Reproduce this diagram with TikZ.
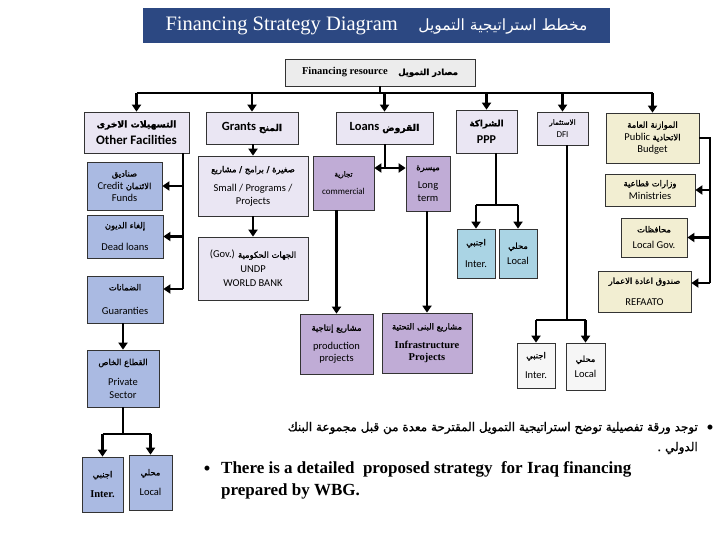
\documentclass[tikz,border=0pt]{standalone}
\usepackage{fontspec}
\setmainfont{Carlito}
\newfontfamily\timesfont{Liberation Serif}
\newfontfamily\arabicfont[Script=Arabic]{DejaVu Sans}
\newfontfamily\arabicbf[Script=Arabic,FakeBold=1.2,Scale=0.8]{DejaVu Sans}
\TeXXeTstate=1
\newcommand{\arb}[1]{{\arabicbf\beginR #1\endR}}
\usetikzlibrary{arrows.meta}

\definecolor{titlebg}{RGB}{44,72,130}
\definecolor{resbox}{RGB}{236,236,236}
\definecolor{lavbox}{RGB}{234,230,243}
\definecolor{blubox}{RGB}{170,186,226}
\definecolor{purbox}{RGB}{192,172,214}
\definecolor{cyabox}{RGB}{170,212,228}
\definecolor{whtbox}{RGB}{246,246,246}
\definecolor{bgebox}{RGB}{242,238,210}

\begin{document}
\begin{tikzpicture}[
  x=1pt, y=-1pt,
  box/.style={draw=black!80, line width=0.7pt, inner sep=1pt, align=center, font=\fontsize{10.5}{12.5}\selectfont},
  lav/.style={box, fill=lavbox},
  blu/.style={box, fill=blubox},
  pur/.style={box, fill=purbox},
  cya/.style={box, fill=cyabox},
  wht/.style={box, fill=whtbox},
  bge/.style={box, fill=bgebox},
  line/.style={line width=2.8pt},
  arrow/.style={line, -{Triangle[width=9pt,length=7pt]}}
]
\fill[white] (0,0) rectangle (720,540);

% heading
\node[fill=titlebg, text=white, minimum width=467, minimum height=35, font=\timesfont\fontsize{20.5}{24}\selectfont] (title) at (376.5,25.5)
  {Financing Strategy Diagram\quad{\arabicfont\fontsize{15.5}{18}\selectfont\beginR مخطط استراتيجية التمويل\endR}};
\node[box, fill=resbox, minimum width=190, minimum height=27, font=\timesfont\bfseries\fontsize{10.5}{12}\selectfont] (fres) at (380,72.5)
  {Financing resource\quad{\fontsize{10.5}{12}\selectfont\arb{مصادر التمويل}}};

% first row
\node[lav, minimum width=105, minimum height=41, font=\bfseries\fontsize{13}{15}\selectfont] (other) at (136.5,132.5)
  {{\fontsize{11.5}{13}\selectfont\arb{التسهيلات الاخرى}}\\[2pt]Other Facilities};
\node[lav, minimum width=92, minimum height=32, font=\bfseries\fontsize{12.5}{14}\selectfont] (grants) at (252,128)
  {Grants {\fontsize{11.5}{13}\selectfont\arb{المنح}}};
\node[lav, minimum width=97, minimum height=32, font=\bfseries\fontsize{12.5}{14}\selectfont] (loans) at (384.5,128)
  {Loans {\fontsize{11.5}{13}\selectfont\arb{القروض}}};
\node[lav, minimum width=61, minimum height=43, font=\bfseries\fontsize{12}{14}\selectfont] (ppp) at (486.5,131.5)
  {{\fontsize{11}{12}\selectfont\arb{الشراكة}}\\[3pt]PPP};
\node[lav, minimum width=51, minimum height=33, font=\fontsize{9}{11}\selectfont] (dfi) at (562.5,128.5)
  {\arb{الاستثمار}\\[2pt]DFI};
\node[bge, minimum width=93, minimum height=50] (budget) at (652.5,138)
  {\arb{الموازنة العامة}\\Public \arb{الاتحادية}\\Budget};

% other facilities
\node[blu, minimum width=75, minimum height=48] (credit) at (124.5,186)
  {\arb{صناديق}\\Credit \arb{الائتمان}\\Funds};
\node[blu, minimum width=76, minimum height=43] (dead) at (125,236.5)
  {\arb{إلغاء الديون}\\[10pt]Dead loans};
\node[blu, minimum width=76, minimum height=47] (guar) at (125,299.5)
  {\arb{الضمانات}\\[12pt]Guaranties};
\node[blu, minimum width=72, minimum height=57] (priv) at (123,378.5)
  {\arb{القطاع الخاص}\\[8pt]Private\\Sector};
\node[blu, minimum width=41, minimum height=55] (pinter) at (102.5,484.5)
  {\arb{اجنبي}\\[8pt]{\timesfont\bfseries Inter.}};
\node[blu, minimum width=43, minimum height=55] (plocal) at (150.5,482.5)
  {\arb{محلي}\\[8pt]Local};

% grants
\node[lav, minimum width=110, minimum height=60] (small) at (253,186)
  {\arb{صغيرة / برامج / مشاريع}\\[7pt]Small / Programs /\\Projects};
\node[lav, minimum width=110, minimum height=63] (gov) at (253,268.5)
  {(Gov.) \arb{الجهات الحكومية}\\[2pt]UNDP\\[2pt]WORLD BANK};

% loans
\node[pur, minimum width=61, minimum height=54, font=\fontsize{9}{11}\selectfont] (comm) at (343.5,183)
  {\arb{تجارية}\\[7pt]commercial};
\node[pur, minimum width=44, minimum height=55] (longt) at (428,183.5)
  {\arb{ميسرة}\\[6pt]Long\\term};
\node[pur, minimum width=73, minimum height=60] (prod) at (336.5,344)
  {\arb{مشاريع إنتاجية}\\[6pt]production\\projects};
\node[pur, minimum width=90, minimum height=60] (infra) at (427,343)
  {\arb{مشاريع البنى التحتية}\\[6pt]{\timesfont\bfseries Infrastructure}\\{\timesfont\bfseries Projects}};

% ppp
\node[cya, minimum width=38, minimum height=49] (ppinter) at (476,253.5)
  {\arb{اجنبي}\\[10pt]Inter.};
\node[cya, minimum width=38, minimum height=49] (pplocal) at (518,253.5)
  {\arb{محلي}\\[3pt]Local};

% dfi
\node[wht, minimum width=38, minimum height=45] (dinter) at (536,365.5)
  {\arb{اجنبي}\\[8pt]Inter.};
\node[wht, minimum width=39, minimum height=47] (dlocal) at (585.5,366.5)
  {\arb{محلي}\\[3pt]Local};

% budget
\node[bge, minimum width=90, minimum height=32] (minis) at (650,190)
  {\arb{وزارات قطاعية}\\[1pt]Ministries};
\node[bge, minimum width=66, minimum height=39] (lgov) at (654,237.5)
  {\arb{محافظات}\\[4pt]Local Gov.};
\node[bge, minimum width=93, minimum height=41] (refaato) at (644.5,291.5)
  {\arb{صندوق اعادة الاعمار}\\[9pt]REFAATO};

% connectors
\coordinate (bus) at (380,93);
\coordinate (spine) at (183,289);
\coordinate (pfork) at (123,434);
\coordinate (lfork) at (385,168);
\coordinate (ppfork) at (496,205);
\coordinate (dfork) at (567,320);
\coordinate (bspine) at (710,283);

\draw[line] (fres.south) -- (bus);
\draw[line] (other.north |- bus) -- (budget.north |- bus);
\foreach \n in {other,grants,loans,ppp,dfi,budget}
  \draw[arrow] (\n.north |- bus) -- (\n.north);

\draw[line] (other.south -| spine) -- (spine);
\draw[arrow] (spine |- credit.east) -- (credit.east);
\draw[arrow] (spine |- dead.east) -- (dead.east);
\draw[arrow] (spine) -- (spine -| guar.east);
\draw[arrow] (priv.north |- guar.south) -- (priv.north);
\draw[line] (priv.south) -- (pfork);
\draw[line] (pinter.north |- pfork) -- (plocal.north |- pfork);
\draw[arrow] (pinter.north |- pfork) -- (pinter.north);
\draw[arrow] (plocal.north |- pfork) -- (plocal.north);

\draw[arrow] (grants.south -| small.north) -- (small.north);
\draw[arrow] (small.south) -- (gov.north);

\draw[line] (loans.south -| lfork) -- (lfork);
\draw[arrow] (lfork) -- (lfork -| comm.east);
\draw[arrow] (lfork) -- (lfork -| longt.west);
\draw[arrow] (prod.north |- comm.south) -- (prod.north);
\draw[arrow] (infra.north |- longt.south) -- (infra.north);

\draw[line] (ppp.south -| ppfork) -- (ppfork);
\draw[line] (ppinter.north |- ppfork) -- (pplocal.north |- ppfork);
\draw[arrow] (ppinter.north |- ppfork) -- (ppinter.north);
\draw[arrow] (pplocal.north |- ppfork) -- (pplocal.north);

\draw[line] (dfi.south -| dfork) -- (dfork);
\draw[line] (dinter.north |- dfork) -- (dlocal.north |- dfork);
\draw[arrow] (dinter.north |- dfork) -- (dinter.north);
\draw[arrow] (dlocal.north |- dfork) -- (dlocal.north);

\draw[line] (budget.east) -- (budget.east -| bspine) -- (bspine);
\draw[arrow] (bspine |- minis.east) -- (minis.east);
\draw[arrow] (bspine |- lgov.east) -- (lgov.east);
\draw[arrow] (bspine) -- (bspine -| refaato.east);

% notes
\node[font=\fontsize{14}{16}\selectfont] (arbul) at (710,428) {•};
\node[anchor=east, inner sep=0pt, font=\fontsize{15}{18}\selectfont] (arline) at (698,428)
  {\arb{توجد ورقة تفصيلية توضح استراتيجية التمويل المقترحة معدة من قبل مجموعة البنك}};
\node[anchor=east, inner sep=0pt, font=\fontsize{15}{18}\selectfont] (arline2) at (698,448)
  {\arb{الدولي .}};
\node[font=\fontsize{14}{16}\selectfont] (enbul) at (207,469) {•};
\node[anchor=west, inner sep=0pt, font=\timesfont\bfseries\fontsize{17}{20}\selectfont] (enline) at (221,469)
  {There is a detailed\ \ proposed strategy\ \ for Iraq financing};
\node[anchor=west, inner sep=0pt, font=\timesfont\bfseries\fontsize{17}{20}\selectfont] (enline2) at (221,491)
  {prepared by WBG.};
\end{tikzpicture}
\end{document}
